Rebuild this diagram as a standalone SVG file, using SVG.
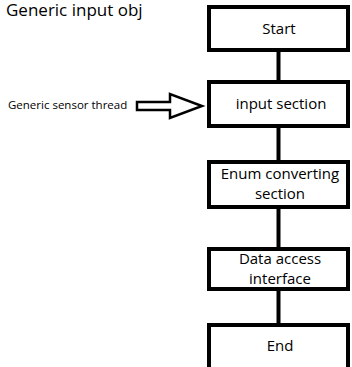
<svg xmlns="http://www.w3.org/2000/svg" width="352" height="367" viewBox="0 0 352 367">
<style>
.box{fill:#fff;stroke:#000;stroke-width:4}
.lbl{font-family:"Open Sans","Noto Sans",sans-serif;font-size:15px;fill:#000;text-anchor:middle}
.conn{stroke:#000;stroke-width:4;fill:none}
</style>
<rect width="352" height="367" fill="#fff"/>
<text id="title" x="6" y="16" font-family="Open Sans, Noto Sans, sans-serif" font-size="17" fill="#000">Generic input obj</text>
<g id="connectors">
<line class="conn" x1="278.5" y1="52" x2="278.5" y2="80"/>
<line class="conn" x1="278.5" y1="128" x2="278.5" y2="160"/>
<line class="conn" x1="278.5" y1="209" x2="278.5" y2="247"/>
<line class="conn" x1="278.5" y1="291" x2="278.5" y2="323"/>
<polygon points="137,102 170,102 170,94 202,106 170,118 170,110 137,110" fill="#fff" stroke="#000" stroke-width="2.5" stroke-linejoin="miter"/>
</g>
<g id="sensor">
<text x="8" y="109" font-family="Open Sans, Noto Sans, sans-serif" font-size="11.5" fill="#000">Generic sensor thread</text>
</g>
<g id="start">
<rect class="box" x="209" y="7" width="139" height="43"/>
<text class="lbl" x="279" y="34">Start</text>
</g>
<g id="input">
<rect class="box" x="209" y="82" width="139" height="44"/>
<text class="lbl" x="281" y="109">input section</text>
</g>
<g id="enum">
<rect class="box" x="209" y="162" width="139" height="45"/>
<text class="lbl" x="280" y="179">Enum converting</text>
<text class="lbl" x="280" y="199">section</text>
</g>
<g id="data">
<rect class="box" x="209" y="249" width="139" height="40"/>
<text class="lbl" x="280" y="264">Data access</text>
<text class="lbl" x="280" y="284">interface</text>
</g>
<g id="end">
<rect class="box" x="209" y="325" width="139" height="50"/>
<text class="lbl" x="280" y="351">End</text>
</g>
</svg>
